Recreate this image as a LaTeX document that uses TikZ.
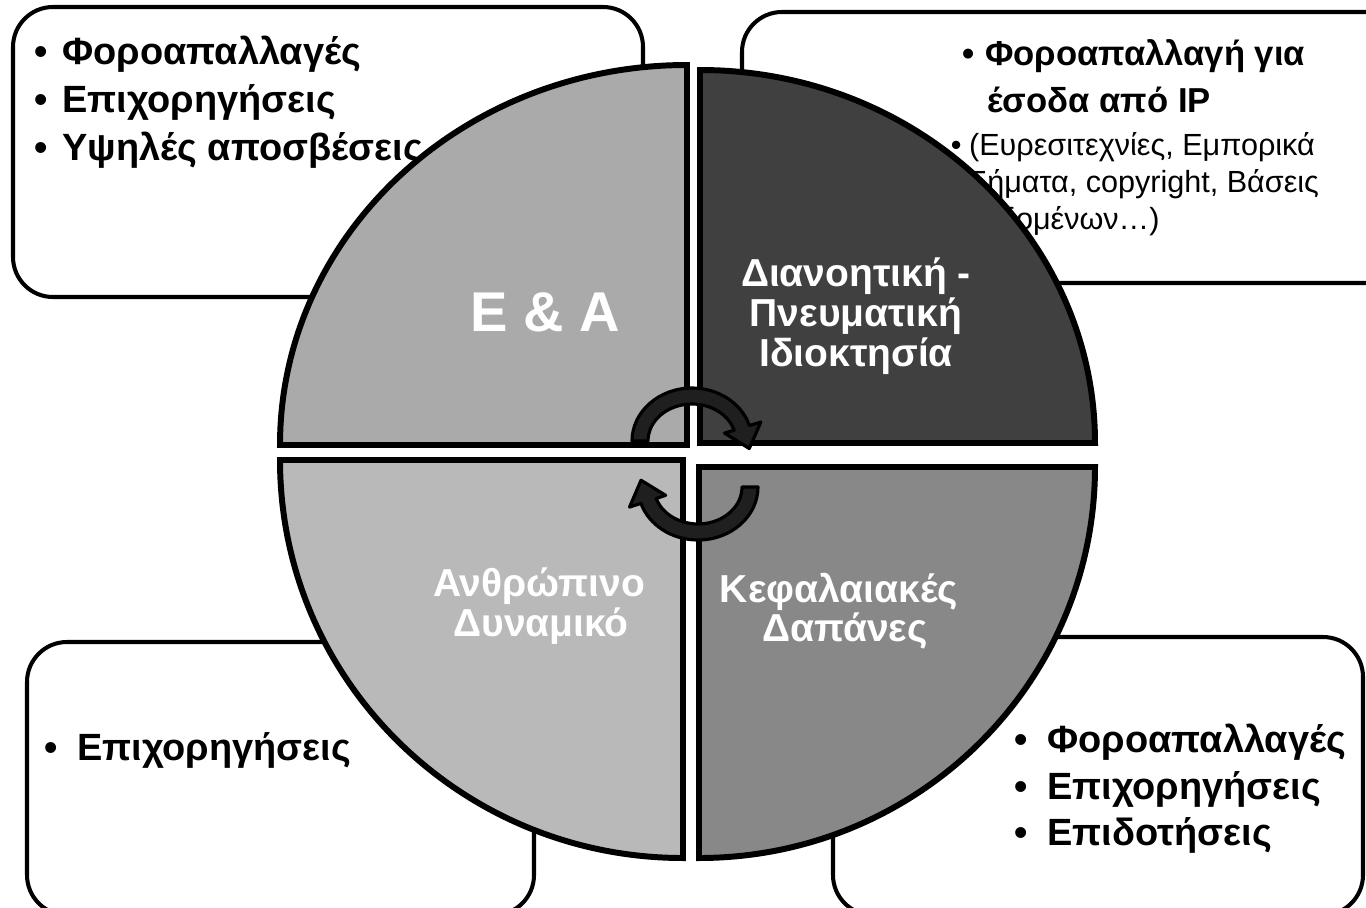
\documentclass[tikz,border=0pt]{standalone}
\usepackage{fontspec}
\setmainfont{Liberation Sans}
\usetikzlibrary{calc}

\definecolor{quadA}{HTML}{AAAAAA}
\definecolor{quadB}{HTML}{404040}
\definecolor{quadC}{HTML}{B9B9B9}
\definecolor{quadD}{HTML}{888888}
\definecolor{arrowgray}{HTML}{1F1F1F}

\begin{document}
\begin{tikzpicture}[x=0.02cm, y=-0.02cm,
  box/.style={draw=black, line width=2.3pt, fill=white, rounded corners=0.8cm},
  quad/.style={draw=black, line width=3.4pt},
  turn/.style={fill=arrowgray, draw=black, line width=1.8pt, line join=round},
  item/.style={anchor=base west, inner sep=0pt, font=\fontsize{21.6pt}{27pt}\selectfont\bfseries},
  itemip/.style={anchor=base west, inner sep=0pt, font=\fontsize{19.7pt}{25pt}\selectfont\bfseries},
  itemsub/.style={anchor=base west, inner sep=0pt, font=\fontsize{17.4pt}{21pt}\selectfont},
  label/.style={anchor=base, inner sep=0pt, text=white, font=\fontsize{22.2pt}{25pt}\selectfont\bfseries}]

  \useasboundingbox (0,0) rectangle (1366,907);
  \clip (0,0) rectangle (1366,907);

  % Boxes behind the circle
  \draw[box] (13,7) rectangle (643,297);
  \draw[box] (742,12) rectangle (1420,283);
  \draw[box] (27,642) rectangle (534,915);
  \draw[box] (833,637) rectangle (1363,915);

  % Top left box
  \node[item] (tla) at (34.4,64) {\makebox[0.726em][l]{\textbullet}Φοροαπαλλαγές};
  \node[item] (tlb) at (34.4,112) {\makebox[0.726em][l]{\textbullet}Επιχορηγήσεις};
  \node[item] (tlc) at (34.4,160) {\makebox[0.726em][l]{\textbullet}Υψηλές αποσβέσεις};

  % Top right box
  \node[itemip] (tra) at (962.5,65) {\makebox[0.65em][l]{\textbullet}Φοροαπαλλαγή για};
  \node[itemip] (trb) at (987,112) {έσοδα από IP};
  \node[itemsub] (trc) at (950.5,155) {\makebox[0.6em][l]{\textbullet}(Ευρεσιτεχνίες, Εμπορικά};
  \node[itemsub] (trd) at (968,192) {Σήματα, copyright, Βάσεις};
  \node[itemsub] (tre) at (968,229) {δεδομένων…)};

  % Bottom left box
  \node[item] (bla) at (44.4,760) {\makebox[0.858em][l]{\textbullet}Επιχορηγήσεις};

  % Bottom right box
  \node[item] (bra) at (1014.4,752) {\makebox[0.858em][l]{\textbullet}Φοροαπαλλαγές};
  \node[item] (brb) at (1014.4,799) {\makebox[0.858em][l]{\textbullet}Επιχορηγήσεις};
  \node[item] (brc) at (1014.4,845) {\makebox[0.858em][l]{\textbullet}Επιδοτήσεις};

  % Quadrants of the circle
  \filldraw[quad, fill=quadA] (687,445) -- (280,445)
    arc[start angle=180, end angle=270, x radius=407, y radius=380] -- cycle;
  \filldraw[quad, fill=quadB] (700,443) -- (700,70)
    arc[start angle=270, end angle=360, x radius=395, y radius=373] -- cycle;
  \filldraw[quad, fill=quadD] (699,467) -- (1095,467)
    arc[start angle=0, end angle=90, x radius=396, y radius=391] -- cycle;
  \filldraw[quad, fill=quadC] (683,460) -- (683,858)
    arc[start angle=90, end angle=180, x radius=403, y radius=398] -- cycle;

  % Quadrant labels
  \node[label, font=\fontsize{31.9pt}{36pt}\selectfont\bfseries] (rd) at (545,331) {Ε \& Α};
  \node[label] (ipa) at (856,286) {Διανοητική -};
  \node[label] (ipb) at (856,326) {Πνευματική};
  \node[label] (ipc) at (856,366) {Ιδιοκτησία};
  \node[label] (hra) at (539,596) {Ανθρώπινο};
  \node[label] (hrb) at (541,636) {Δυναμικό};
  \node[label] (cea) at (839,602) {Κεφαλαιακές};
  \node[label] (ceb) at (845,641) {Δαπάνες};

  % Turning arrows in the middle
  \coordinate (ctop) at (692,441);
  \coordinate (cbot) at (698,487);
  \filldraw[turn] ($(ctop)+(180:60 and 53)$)
    arc[start angle=180, end angle=343, x radius=60, y radius=53]
    -- ($(ctop)+(343:72 and 65)$) -- ($(ctop)+(343:52 and 45)+(70:22)$) -- ($(ctop)+(343:34 and 27)$)
    -- ($(ctop)+(343:44 and 37)$)
    arc[start angle=343, end angle=180, x radius=44, y radius=37] -- cycle;
  \filldraw[turn] ($(cbot)+(0:60 and 53)$)
    arc[start angle=0, end angle=162, x radius=60, y radius=53]
    -- ($(cbot)+(162:72 and 65)$) -- ($(cbot)+(162:52 and 45)+(250:22)$) -- ($(cbot)+(162:34 and 27)$)
    -- ($(cbot)+(162:44 and 37)$)
    arc[start angle=162, end angle=0, x radius=44, y radius=37] -- cycle;

\end{tikzpicture}
\end{document}
